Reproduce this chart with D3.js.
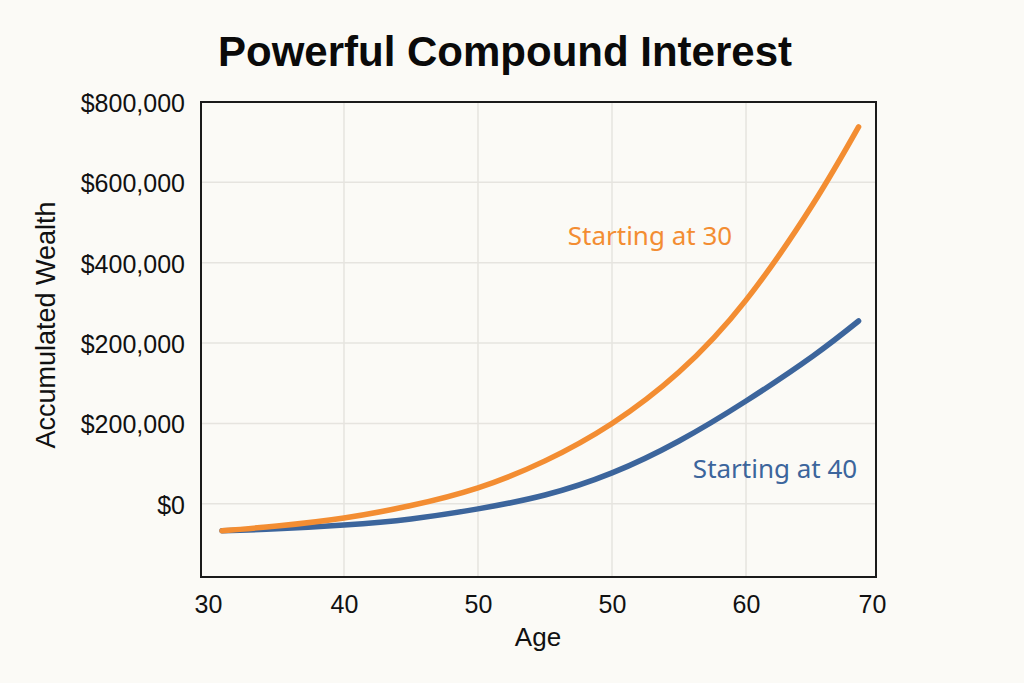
<!DOCTYPE html>
<html>
<head>
<meta charset="utf-8">
<script src="https://cdn.jsdelivr.net/npm/d3@7"></script>
<style>
  html, body { margin: 0; padding: 0; background: #fbfaf6; }
  svg { display: block; }
</style>
</head>
<body>
<svg id="chart" width="1024" height="683"></svg>
<script>
// ---- data ----
const title = "Powerful Compound Interest";
const xTitle = "Age";
const yTitle = "Accumulated Wealth";
// tick positions (slots) and their printed labels as they appear in the reference
const xTickPositions = [29.85, 40, 50, 60, 70, 79.4];
const xTickLabels = ["30", "40", "50", "50", "60", "70"];
const yTickPositions = [0, 200000, 400000, 600000, 800000, 1000000];
const yTickLabels = ["$0", "$200,000", "$200,000", "$400,000", "$600,000", "$800,000"];
// sample points along the curves (x in tick-slot units)
const ages = [30.9, 35, 40, 45, 50, 55, 60, 65, 70, 75, 78.4];
const start30 = [-67000, -55000, -35000, -4000, 40000, 107000, 200000, 328000, 507000, 746000, 938000];
const start40 = [-67000, -62000, -52500, -37500, -12500, 22000, 77000, 156500, 256000, 368000, 455000];
const seriesNames = ["Starting at 30", "Starting at 40"];
const seriesColors = ["#f38d32", "#3c659c"];

// ---- layout ----
const svg = d3.select("#chart");
const plot = { left: 201, right: 876, top: 102, bottom: 577 };

const x = d3.scaleLinear().domain([29.33, 79.7]).range([plot.left, plot.right]);
const y = d3.scaleLinear().domain([-182000, 1000000]).range([plot.bottom, plot.top]);

svg.append("rect").attr("width", 1024).attr("height", 683).attr("fill", "#fbfaf6");

// gridlines
const grid = svg.append("g");
grid.selectAll("line.v").data(xTickPositions.slice(1, -1)).enter()
  .append("line").attr("class", "v")
  .attr("x1", d => x(d)).attr("x2", d => x(d))
  .attr("y1", plot.top).attr("y2", plot.bottom)
  .attr("stroke", "#e6e4df").attr("stroke-width", 1.5);
grid.selectAll("line.h").data(yTickPositions.slice(0, -1)).enter()
  .append("line").attr("class", "h")
  .attr("x1", plot.left).attr("x2", plot.right)
  .attr("y1", d => y(d)).attr("y2", d => y(d))
  .attr("stroke", "#e6e4df").attr("stroke-width", 1.5);

// axes (labels only)
const xAxis = d3.axisBottom(x).tickValues(xTickPositions)
  .tickFormat((d, i) => xTickLabels[i]).tickSize(0).tickPadding(18);
const gx = svg.append("g").attr("transform", `translate(0,${plot.bottom})`).call(xAxis);
gx.select(".domain").remove();
gx.selectAll("text").attr("font-family", "'Liberation Sans', Arial, sans-serif")
  .attr("font-size", 25).attr("fill", "#111");

const yAxis = d3.axisLeft(y).tickValues(yTickPositions)
  .tickFormat((d, i) => yTickLabels[i]).tickSize(0).tickPadding(16);
const gy = svg.append("g").attr("transform", `translate(${plot.left},0)`).call(yAxis);
gy.select(".domain").remove();
gy.selectAll("text").attr("font-family", "'Liberation Sans', Arial, sans-serif")
  .attr("font-size", 25).attr("fill", "#111").attr("dy", "0.38em");

// frame
svg.append("rect")
  .attr("x", plot.left).attr("y", plot.top)
  .attr("width", plot.right - plot.left).attr("height", plot.bottom - plot.top)
  .attr("fill", "none").attr("stroke", "#1a1a1a").attr("stroke-width", 2);

// lines
const line = d3.line().x((d, i) => x(ages[i])).y(d => y(d)).curve(d3.curveNatural);
[start40, start30].forEach((s, k) => {
  const idx = k === 0 ? 1 : 0;
  svg.append("path").datum(s)
    .attr("d", line)
    .attr("fill", "none")
    .attr("stroke", seriesColors[idx])
    .attr("stroke-width", 5.5)
    .attr("stroke-linecap", "round");
});

// series labels
svg.append("text").attr("x", x(56.7)).attr("y", y(644000))
  .attr("font-family", "'Noto Sans', 'Open Sans', sans-serif").attr("font-size", 26)
  .attr("fill", seriesColors[0]).text(seriesNames[0]);
svg.append("text").attr("x", x(78.3)).attr("y", y(64000)).attr("text-anchor", "end")
  .attr("font-family", "'Noto Sans', 'Open Sans', sans-serif").attr("font-size", 26)
  .attr("fill", seriesColors[1]).text(seriesNames[1]);

// titles
svg.append("text").attr("x", 505).attr("y", 66).attr("text-anchor", "middle")
  .attr("font-family", "'Liberation Sans', Arial, sans-serif").attr("font-weight", "bold")
  .attr("font-size", 42).attr("fill", "#0a0a0a").text(title);
svg.append("text").attr("x", 538).attr("y", 646).attr("text-anchor", "middle")
  .attr("font-family", "'Liberation Sans', Arial, sans-serif")
  .attr("font-size", 26).attr("fill", "#111").text(xTitle);
svg.append("text").attr("transform", "translate(55,325) rotate(-90)").attr("text-anchor", "middle")
  .attr("font-family", "'Liberation Sans', Arial, sans-serif")
  .attr("font-size", 27).attr("fill", "#111").text(yTitle);
</script>
</body>
</html>
